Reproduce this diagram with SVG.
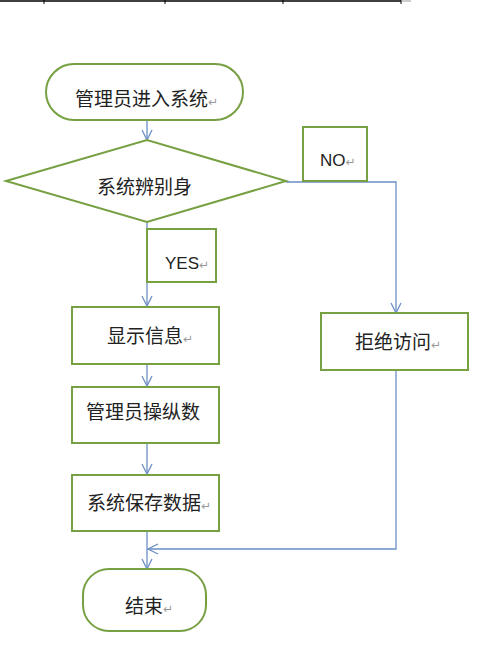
<svg xmlns="http://www.w3.org/2000/svg" width="484" height="657" viewBox="0 0 484 657">
<style>
.n{fill:#fff;stroke:#77a043;stroke-width:2}
.t{font-family:"Noto Sans CJK SC","Liberation Sans",sans-serif;font-size:19px;fill:#222}
.l{font-family:"Liberation Sans",sans-serif;font-size:17px;fill:#222}
.r{fill:#999;font-family:"DejaVu Sans",sans-serif;font-size:12px}
.c{fill:none;stroke:#6b8fc4;stroke-width:1.3}
</style>
<defs>
<marker id="a" viewBox="0 0 12 12" refX="11" refY="6" markerWidth="12" markerHeight="12" markerUnits="userSpaceOnUse" orient="auto">
<path d="M1,1 L11,6 L1,11" fill="none" stroke="#6b8fc4" stroke-width="1.3"/>
</marker>
</defs>
<rect width="484" height="657" fill="#fff"/>
<g id="ruler" stroke="#000" stroke-width="1.5">
<line x1="0" y1="1" x2="401" y2="1"/>
<line x1="44" y1="0" x2="44" y2="4" stroke-width="1"/>
<line x1="165" y1="0" x2="165" y2="4" stroke-width="1"/>
<line x1="283" y1="0" x2="283" y2="4" stroke-width="1"/>
<line x1="401" y1="0" x2="401" y2="4" stroke-width="1"/>
<line x1="402" y1="1" x2="411" y2="1" stroke="#999" stroke-width="1"/>
</g>
<g id="connectors">
<line class="c" x1="147" y1="120" x2="147" y2="140" marker-end="url(#a)"/>
<line class="c" x1="147" y1="222" x2="147" y2="306" marker-end="url(#a)"/>
<polyline class="c" points="286,182 396,182 396,313" marker-end="url(#a)"/>
<line class="c" x1="147" y1="364" x2="147" y2="386" marker-end="url(#a)"/>
<line class="c" x1="147" y1="443" x2="147" y2="474" marker-end="url(#a)"/>
<line class="c" x1="147" y1="531" x2="147" y2="569" marker-end="url(#a)"/>
<polyline class="c" points="396,370 396,549 148,549" marker-end="url(#a)"/>
</g>
<g id="start">
<rect class="n" x="46" y="64" width="197" height="56" rx="28"/>
<text class="t" x="75" y="106">管理员进入系统<tspan class="r">↵</tspan></text>
</g>
<g id="decision">
<polygon class="n" points="6,181 147,140 286,181 147,222"/>
<text class="t" x="97" y="194">系统辨别身</text>
</g>
<g id="no">
<rect class="n" x="303" y="127" width="64" height="54"/>
<text class="l" x="320" y="166">NO<tspan class="r">↵</tspan></text>
</g>
<g id="yes">
<rect class="n" x="147" y="229" width="69" height="53"/>
<text class="l" x="165" y="269">YES<tspan class="r">↵</tspan></text>
</g>
<g id="show">
<rect class="n" x="72" y="307" width="147" height="57"/>
<text class="t" x="107" y="343">显示信息<tspan class="r">↵</tspan></text>
</g>
<g id="operate">
<rect class="n" x="72" y="387" width="147" height="56"/>
<text class="t" x="86" y="419">管理员操纵数</text>
</g>
<g id="save">
<rect class="n" x="72" y="475" width="147" height="56"/>
<text class="t" x="87" y="510">系统保存数据<tspan class="r">↵</tspan></text>
</g>
<g id="deny">
<rect class="n" x="321" y="313" width="147" height="57"/>
<text class="t" x="355" y="349">拒绝访问<tspan class="r">↵</tspan></text>
</g>
<g id="end">
<rect class="n" x="83" y="569" width="123" height="62" rx="26"/>
<text class="t" x="125" y="613">结束<tspan class="r">↵</tspan></text>
</g>
</svg>
